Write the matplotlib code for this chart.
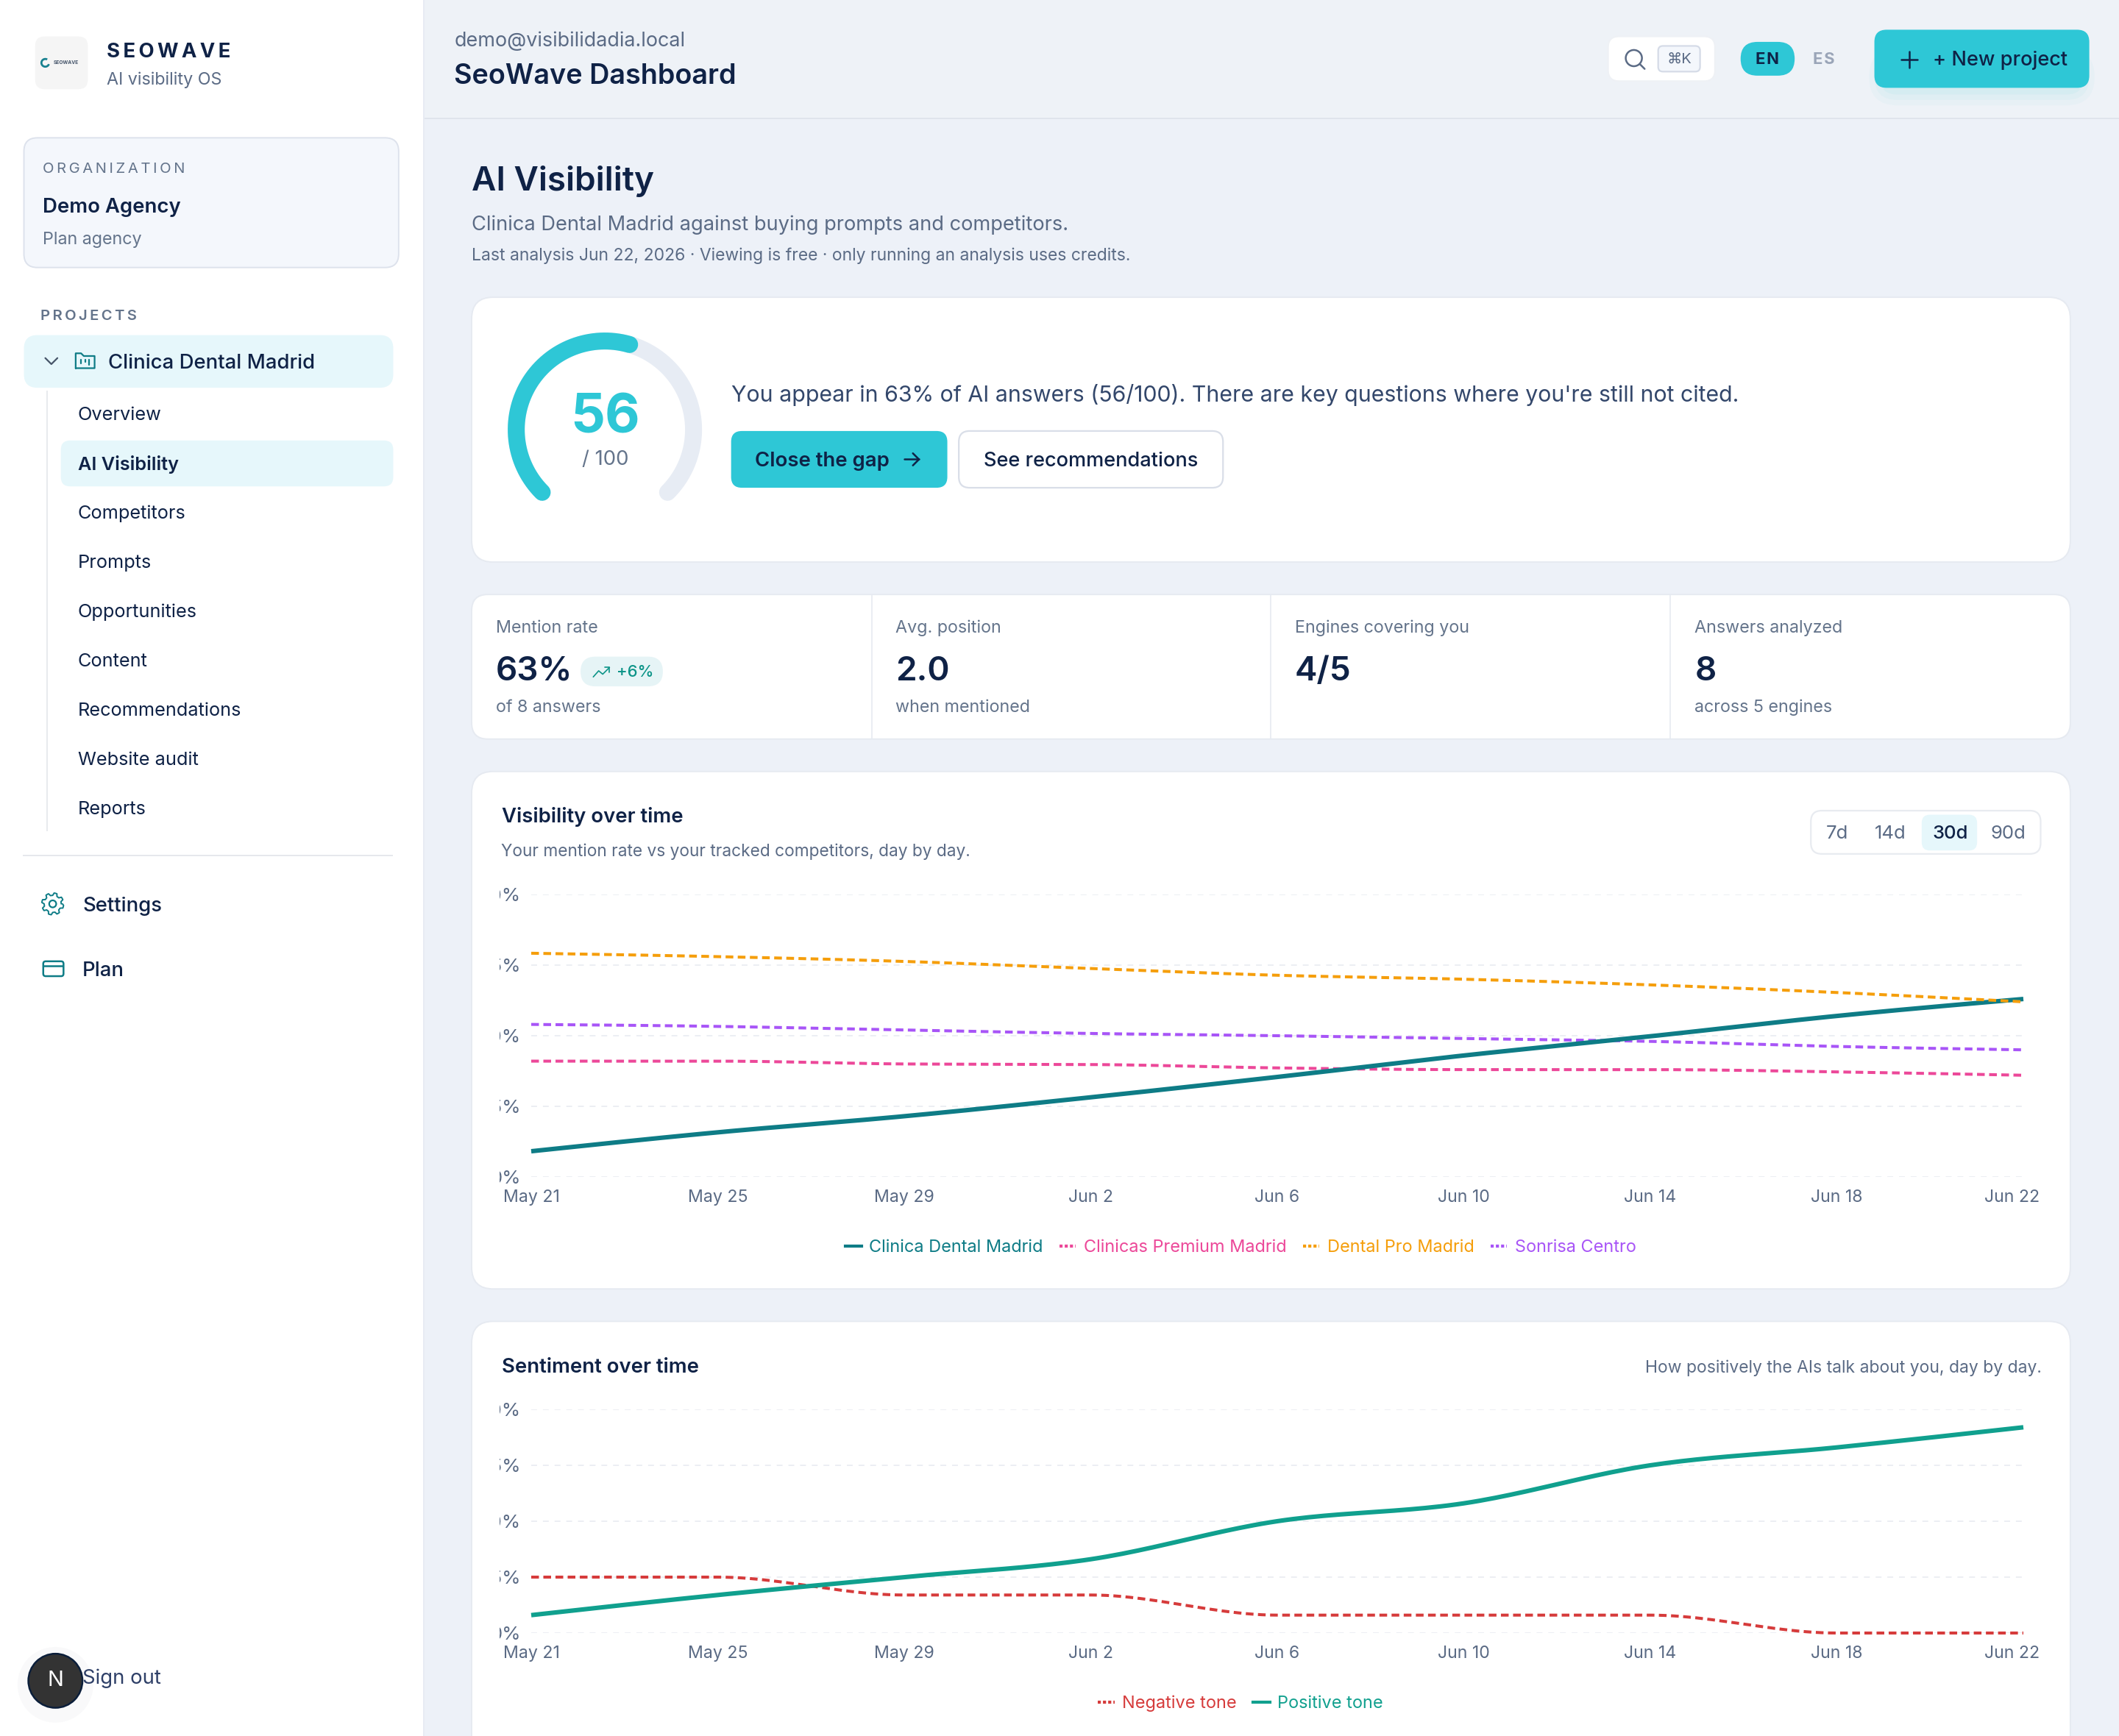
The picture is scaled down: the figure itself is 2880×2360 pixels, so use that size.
import numpy as np
import matplotlib
matplotlib.use("Agg")
import matplotlib.pyplot as plt
from matplotlib.patches import FancyBboxPatch, Circle, Wedge
from matplotlib.lines import Line2D
from matplotlib.transforms import Bbox, ScaledTranslation

plt.rcParams['font.family'] = ['Inter', 'DejaVu Sans']

# chart data, one value per tick (every 4 days)
TICK_LABELS = ["May 21", "May 25", "May 29", "Jun 2", "Jun 6", "Jun 10", "Jun 14", "Jun 18", "Jun 22"]
Y_TICKS = [0, 25, 50, 75, 100]
Y_LABELS = ["0%", "25%", "50%", "75%", "100%"]

CLINICA = [9.1, 15.8, 21.5, 28.2, 35.4, 43.0, 49.8, 57.0, 63.0]
PREMIUM = [41.0, 41.0, 40.0, 39.8, 38.6, 38.0, 38.0, 37.2, 36.0]
DENTAL_PRO = [79.2, 78.0, 76.3, 73.8, 71.4, 70.0, 68.0, 65.3, 62.0]
SONRISA = [54.0, 53.3, 52.0, 50.8, 50.0, 49.0, 48.0, 46.2, 45.0]

NEGATIVE = [25, 25, 17, 17, 8, 8, 8, 0, 0]
POSITIVE = [8, 17, 25, 33, 50, 58, 75, 83, 92]

SCORE = 56

NAV_ITEMS = ["Overview", "AI Visibility", "Competitors", "Prompts", "Opportunities",
             "Content", "Recommendations", "Website audit", "Reports"]
NAV_Y = [306, 342.5, 379, 415.5, 452, 488.5, 525, 561.5, 598]

KPI_LABELS = ["Mention rate", "Avg. position", "Engines covering you", "Answers analyzed"]
KPI_VALUES = ["63%", "2.0", "4/5", "8"]
KPI_NOTES = ["of 8 answers", "when mentioned", "", "across 5 engines"]
KPI_X = [367, 662.5, 958, 1254]

RANGES = ["7d", "14d", "30d", "90d"]
RANGE_X = [1359.6, 1399, 1443, 1486]

NAVY = "#0F2246"
SLATE = "#5B6B85"
CYAN = "#2EC7D6"
TEAL = "#0E7C86"
PALE = "#E6F7FB"
LINE = "#E6EAF1"

# the layout below is in the units of a 1568 wide page
W = 1568
H = 2360 / (2880 / 1568)

fig = plt.figure(figsize=(14.4, 11.8), dpi=200)
page = fig.add_axes([0, 0, 1, 1])
page.set_xlim(0, W)
page.set_ylim(H, 0)
page.axis("off")


def box(x0, y0, x1, y1, fill="white", edge="none", r=8, lw=0.7, z=1, alpha=None):
    p = FancyBboxPatch((x0, y0), x1 - x0, y1 - y0, boxstyle=f"round,pad=0,rounding_size={r}",
                       fc=fill, ec=edge, lw=lw, zorder=z, alpha=alpha)
    page.add_patch(p)
    return p


def label(x, y, s, size=13, color=SLATE, weight="normal", ha="left"):
    # va center sits a bit high in matplotlib, push it down with the font size
    return page.text(x, y + size * 0.1, s, fontsize=size * 0.661, color=color, fontweight=weight,
                     ha=ha, va="center", zorder=5)


def stroke(xs, ys, color, lw=0.8, z=5, cap="round"):
    page.plot(xs, ys, color=color, lw=lw, zorder=z, solid_capstyle=cap, solid_joinstyle="round")


def monotone_curve(y, per=24):
    # same smoothing as a monotone line in the web charts
    y = np.asarray(y, dtype=float)
    n = len(y)
    s = np.diff(y)
    t = np.zeros(n)
    for i in range(1, n - 1):
        t[i] = (np.sign(s[i - 1]) + np.sign(s[i])) * min(abs(s[i - 1]), abs(s[i]), 0.5 * abs((s[i - 1] + s[i]) / 2))
    t[0] = (3 * s[0] - t[1]) / 2
    t[-1] = (3 * s[-1] - t[-2]) / 2
    u = np.linspace(0, 1, per, endpoint=False)
    xs, ys = [], []
    for i in range(n - 1):
        h00 = 2 * u**3 - 3 * u**2 + 1
        h10 = u**3 - 2 * u**2 + u
        h01 = -2 * u**3 + 3 * u**2
        h11 = u**3 - u**2
        xs.append(i + u)
        ys.append(h00 * y[i] + h10 * t[i] + h01 * y[i + 1] + h11 * t[i + 1])
    xs.append([n - 1])
    ys.append([y[-1]])
    return np.concatenate(xs), np.concatenate(ys)


def line_chart(top, bottom, series, legend_y, legend_x=918 / W):
    ax = fig.add_axes([722 / 2880, 1 - bottom / 2360, (2750 - 722) / 2880, (bottom - top) / 2360])
    ax.patch.set_alpha(0)
    for sp in ax.spines.values():
        sp.set_visible(False)
    ax.set_xlim(0, 8)
    ax.set_ylim(0, 100)
    ax.set_yticks(Y_TICKS, Y_LABELS)
    ax.set_xticks(range(len(TICK_LABELS)), TICK_LABELS)
    ax.tick_params(length=0, labelsize=12.6 * 0.661, labelcolor=SLATE)
    ax.tick_params(axis="y", pad=5, labelsize=14 * 0.661)
    ax.tick_params(axis="x", pad=6)
    ax.grid(axis="y", color="#EBEDF2", lw=0.65, ls=(0, (4.4, 4.4)))
    ax.set_axisbelow(True)
    # long y labels get cut by the card padding, like in the dashboard
    for t in ax.get_yticklabels():
        t.set_clip_on(True)
        t.set_clip_box(Bbox.from_extents(679, 0, 2880, 2360))
    last = ax.get_xticklabels()[-1]
    last.set_transform(last.get_transform() + ScaledTranslation(-15 / 200, 0, fig.dpi_scale_trans))

    handles = []
    for name, values, color, solid in series:
        xs, ys = monotone_curve(values)
        if solid:
            ax.plot(xs, ys, color=color, lw=2.2, clip_on=False, solid_capstyle="butt", zorder=4)
            handles.append(Line2D([], [], color=color, lw=1.5, label=name))
        else:
            ax.plot(xs, ys, color=color, lw=1.45, clip_on=False, ls=(0, (2.6, 1.5)), zorder=5 if color == "#F59E0B" else 3)
            handles.append(Line2D([], [], color=color, lw=1.5, ls=(0, (1.0, 0.7)), label=name))
    ax.legend(handles=handles, loc="center", bbox_to_anchor=(legend_x, 1 - legend_y / H),
              bbox_transform=fig.transFigure, ncol=len(handles), frameon=False, fontsize=12.8 * 0.661,
              labelcolor="linecolor", handlelength=0.95, handletextpad=0.45, columnspacing=0.95)
    return ax


# backgrounds
page.add_patch(plt.Rectangle((0, 0), W, H, fc="#EDF1F8", ec="none", zorder=0))
page.add_patch(plt.Rectangle((314, 0), W - 314, 87, fc="#EEF2F7", ec="none", zorder=0.2))
stroke([314, W], [87.5, 87.5], "#DDE2EA", 0.6, z=0.3, cap="butt")
page.add_patch(plt.Rectangle((0, 0), 313, H, fc="white", ec="none", zorder=0.5))
stroke([313.5, 313.5], [0, H], "#E6EAF2", 0.6, z=0.6, cap="butt")

# sidebar head
box(26, 27, 65, 66, fill="#F5F5F5", r=7)
page.add_patch(Wedge((33.5, 46.5), 3.6, 20, 300, width=1.5, fc="#17808F", ec="none", zorder=5))
page.text(49, 46.5, "SEOWAVE", fontsize=2.4, color="#44546A", ha="center", va="center", fontweight="bold", zorder=5)
label(79, 37, "S\u2009E\u2009O\u2009W\u2009A\u2009V\u2009E", 15, NAVY, "bold")
label(79, 58, "AI visibility OS", 12.7, SLATE)

box(17.7, 102, 295, 198, fill="#F4F7FC", edge="#DDE2EC", r=10)
label(31.5, 124, "O\u2009R\u2009G\u2009A\u2009N\u2009I\u2009Z\u2009A\u2009T\u2009I\u2009O\u2009N", 11, "#64748B")
label(31.5, 152, "Demo Agency", 15, NAVY, "semibold")
label(31.5, 176, "Plan agency", 12.7, "#64748B")
label(30, 233, "P\u2009R\u2009O\u2009J\u2009E\u2009C\u2009T\u2009S", 11, "#64748B", "semibold")

box(17.7, 248, 291, 287, fill=PALE, r=10)
stroke([33.5, 38, 42.5], [265, 269.5, 265], "#475569")
stroke([56, 56, 60, 62, 70, 70, 56], [272.5, 261.5, 261.5, 263.5, 263.5, 272.5, 272.5], TEAL)
stroke([60, 60], [266, 269], TEAL)
stroke([63, 63], [266, 268], TEAL)
stroke([66, 66], [266, 270], TEAL)
label(80, 267.5, "Clinica Dental Madrid", 15, NAVY, "medium")

stroke([35, 35], [289, 615], "#E8EAEE", 0.7, z=1, cap="butt")
box(45, 326, 291, 360, fill=PALE, r=7)
for name, y in zip(NAV_ITEMS, NAV_Y):
    label(57.5, y, name, 13.8, NAVY, "semibold" if name == "AI Visibility" else "normal")
stroke([17, 291], [633, 633], "#E6E8EC", 0.7, z=1, cap="butt")

# gear and card icons
ang = np.linspace(0, 2 * np.pi, 49)
gear = 7.2 + 0.9 * np.sign(np.sin(8 * ang))
stroke(39 + gear * np.cos(ang), 669 + gear * np.sin(ang), TEAL, 0.7)
page.add_patch(Circle((39, 669), 2.6, fc="none", ec=TEAL, lw=0.8, zorder=5))
label(61, 669, "Settings", 15, NAVY, "medium")
box(32, 711.5, 47, 722.5, fill="none", edge=TEAL, r=1.8, lw=0.9, z=5)
stroke([32, 47], [715, 715], TEAL, 0.9, cap="butt")
label(61, 717, "Plan", 15, NAVY, "medium")

label(61, 1241, "Sign out", 15, "#2F4068")
page.add_patch(Circle((41, 1247), 28, fc="#F6F6F7", ec="none", zorder=0.7, alpha=0.6))
page.add_patch(Circle((41, 1244), 20, fc="#333333", ec="#0B1E3A", lw=0.9, zorder=6))
page.text(41, 1244, "N", fontsize=10.5, color="white", ha="center", va="center", zorder=7)

# header
label(336, 29, "demo@visibilidadia.local", 14.7, SLATE)
label(336, 54.5, "SeoWave Dashboard", 20.6, NAVY, "semibold")
box(1190, 27, 1269, 60, edge="#EEF1F5", r=8)
page.add_patch(Circle((1209, 43), 6, fc="none", ec=SLATE, lw=0.9, zorder=5))
stroke([1213.5, 1217], [47.5, 51], SLATE, 0.9)
box(1227, 34, 1258, 53, fill="#F4F7FC", edge="#D5DBE7", r=3.5, lw=0.8, z=2)
label(1242.5, 43, "\u2318K", 11, SLATE, ha="center")
box(1288, 31, 1328, 56, fill=CYAN, r=12.5, z=2)
label(1308, 43, "E\u200aN", 12, NAVY, "bold", ha="center")
label(1349.5, 43, "E\u200aS", 12, "#9AA5B8", "bold", ha="center")
# soft glow under the button
for grow, a in zip([12, 8, 4], [0.03, 0.04, 0.05]):
    box(1395 - grow, 36, 1538 + grow, 66 + grow, fill=CYAN, r=9 + grow, alpha=a, z=1)
box(1387, 22, 1546, 65, fill=CYAN, r=9, z=2)
stroke([1407, 1419], [44, 44], NAVY, 0.9)
stroke([1413, 1413], [38, 50], NAVY, 0.9)
label(1430, 43, "+ New project", 14.8, NAVY, "medium")

# page title
label(349, 131.5, "AI Visibility", 25, NAVY, "semibold")
label(349, 165, "Clinica Dental Madrid against buying prompts and competitors.", 14.85, SLATE)
label(349, 188, "Last analysis Jun 22, 2026 \u00b7 Viewing is free \u00b7 only running an analysis uses credits.", 12.5, SLATE)

# score card
box(349, 220, 1532, 416, edge=LINE, r=16)
cx, cy, rad = 447.6, 318, 65.6
track = np.radians(np.linspace(225, -45, 200))
stroke(cx + rad * np.cos(track), cy - rad * np.sin(track), "#E7ECF4", 8.3, z=2)
done = np.radians(np.linspace(225, 225 - 270 * SCORE / 100, 200))
stroke(cx + rad * np.cos(done), cy - rad * np.sin(done), CYAN, 8.3, z=3)
label(448, 306, str(SCORE), 40, CYAN, "bold", ha="center")
label(448, 339, "/ 100", 15, "#64748B", ha="center")
label(541, 290.5, "You appear in 63% of AI answers (56/100). There are key questions where you're still not cited.", 16.5, "#33476B")
box(541, 319, 701, 361, fill=CYAN, r=8)
label(558.5, 340, "Close the gap", 15, NAVY, "semibold")
stroke([669, 680], [340, 340], NAVY, 0.9)
stroke([675.5, 680, 675.5], [335.5, 340, 344.5], NAVY, 0.9)
box(709.5, 319, 905, 361, edge="#D9DEE8", r=8, lw=0.8)
label(807.5, 340, "See recommendations", 14.8, NAVY, "medium", ha="center")

# kpi row
box(349, 440, 1532, 547, edge=LINE, r=12)
for x in [645, 940, 1236]:
    stroke([x, x], [440, 547], "#E6EAF1", 0.6, z=2, cap="butt")
for x, name, value, note in zip(KPI_X, KPI_LABELS, KPI_VALUES, KPI_NOTES):
    label(x, 463.5, name, 12.7, "#64748B")
    label(x, 494.5, value, 25, NAVY, "semibold")
    if note:
        label(x, 522.5, note, 12.7, "#64748B")
box(429.6, 486, 490.5, 508, fill="#E6F4F6", r=11, z=2)
stroke([439, 443, 446, 451], [501, 496.5, 499, 494], "#0D9488", 0.6)
stroke([447.5, 451, 451], [494, 494, 497.5], "#0D9488", 0.6)
label(456, 496.5, "+6%", 12, "#0D9488", "medium")

# visibility card
box(349, 571, 1532, 954, edge=LINE, r=16)
label(371.5, 603, "Visibility over time", 15, NAVY, "semibold")
label(371, 629, "Your mention rate vs your tracked competitors, day by day.", 12.4, SLATE)
box(1340, 600, 1510, 632, edge="#E8EBF0", r=8, lw=0.8)
box(1422, 603, 1463, 629.5, fill=PALE, r=6, z=2)
for name, x in zip(RANGES, RANGE_X):
    label(x, 616, name, 14, NAVY if name == "30d" else SLATE, "medium" if name == "30d" else "normal", ha="center")

line_chart(1216, 1600, [
    ("Clinica Dental Madrid", CLINICA, TEAL, True),
    ("Clinicas Premium Madrid", PREMIUM, "#EC4899", False),
    ("Dental Pro Madrid", DENTAL_PRO, "#F59E0B", False),
    ("Sonrisa Centro", SONRISA, "#A855F7", False),
], 923.5)

# sentiment card, runs off the bottom of the page
box(349, 978, 1532, H + 40, edge=LINE, r=16)
label(371.5, 1010.5, "Sentiment over time", 15, NAVY, "semibold")
label(1510.5, 1011.5, "How positively the AIs talk about you, day by day.", 12.5, SLATE, ha="right")

line_chart(1916, 2220, [
    ("Negative tone", NEGATIVE, "#D63B3B", False),
    ("Positive tone", POSITIVE, "#10A08E", True),
], 1261)

fig.savefig("out.png", dpi=200)
